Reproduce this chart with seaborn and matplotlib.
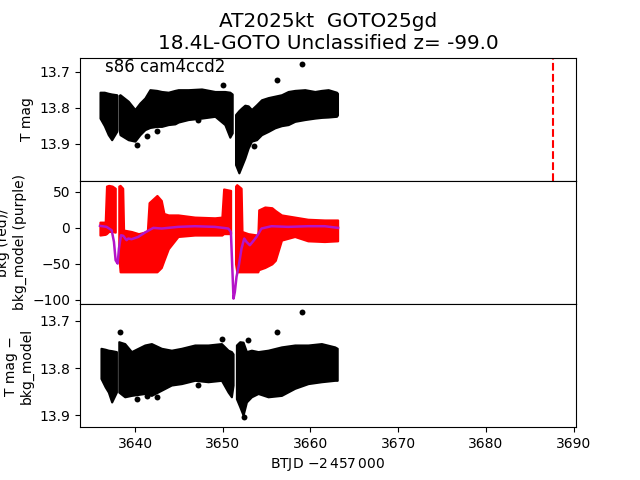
import matplotlib
matplotlib.use("Agg")
import matplotlib.pyplot as plt
import seaborn as sns
import pandas as pd

# ---------------- data ----------------
# Top panel: T mag point cloud, described by its upper/lower envelope per observing segment
tmag_t = [
    [3636.01, 3636.5, 3636.95, 3637.34, 3637.91],
    [3638.17, 3638.29, 3639.23, 3639.99, 3640.56, 3641.13, 3641.70, 3642.47, 3643.03,
     3643.79, 3644.55, 3644.93, 3646.07, 3647.59, 3649.11, 3650.24, 3650.81, 3651.08],
    [3651.46, 3651.84, 3652.14, 3652.52, 3652.90, 3653.28, 3653.85, 3654.42, 3655.18, 3655.94,
     3656.70, 3657.46, 3658.22, 3659.36, 3660.50, 3661.26, 3662.02, 3662.97, 3663.08],
]
tmag_hi = [
    [13.757, 13.757, 13.760, 13.762, 13.764],
    [13.766, 13.764, 13.782, 13.805, 13.787, 13.773, 13.750, 13.752, 13.755,
     13.757, 13.752, 13.750, 13.750, 13.748, 13.755, 13.755, 13.757, 13.762],
    [13.819, 13.808, 13.801, 13.793, 13.795, 13.805, 13.792, 13.778, 13.772, 13.768,
     13.764, 13.755, 13.752, 13.750, 13.755, 13.752, 13.750, 13.757, 13.760],
]
tmag_lo = [
    [13.829, 13.850, 13.875, 13.889, 13.866],
    [13.860, 13.875, 13.889, 13.893, 13.875, 13.861, 13.855, 13.852, 13.852,
     13.847, 13.845, 13.840, 13.833, 13.829, 13.824, 13.847, 13.882, 13.870],
    [13.958, 13.981, 13.963, 13.940, 13.912, 13.893, 13.889, 13.875, 13.866, 13.856,
     13.850, 13.847, 13.838, 13.833, 13.829, 13.827, 13.826, 13.824, 13.820],
]
tmag_out_t = [3650.05, 3656.13, 3659.09, 3647.13, 3640.19, 3641.33, 3642.47, 3653.58]
tmag_out_m = [13.736, 13.724, 13.680, 13.833, 13.903, 13.880, 13.864, 13.907]

# Middle panel: background flux envelope (red) and background model (purple)
bkg_t = [
    [3636.0, 3636.6, 3636.75, 3637.0, 3637.4, 3637.75],
    [3638.15, 3638.3, 3638.6, 3638.7, 3639.6, 3640.4, 3641.4, 3641.6, 3642.5, 3643.0,
     3643.3, 3643.8, 3644.9, 3646.8, 3649.1, 3649.9, 3650.1, 3650.9],
    [3651.46, 3651.6, 3652.1, 3652.2, 3652.9, 3654.0, 3654.1, 3654.8, 3655.6, 3656.0,
     3656.7, 3658.2, 3659.7, 3661.6, 3663.1],
]
bkg_hi = [
    [8, 8, 58, 59, 58, 55],
    [58, 59, 55, -3, -5, -8, -5, 35, 45, 38, 20, 18, 18, 15, 14, 15, 54, 52],
    [58, 60, 55, -5, -8, -10, 25, 29, 28, 24, 18, 15, 12, 11, 11],
]
bkg_lo = [
    [-10, -9, -8, -5, -5, -6],
    [-40, -61, -61, -61, -61, -61, -61, -61, -61, -55, -45, -29, -12, -10, -10, -10, -8, -8],
    [-50, -61, -61, -61, -61, -61, -58, -55, -50, -45, -17, -12, -18, -19, -18],
]
model_t = [3636.01, 3636.76, 3637.34, 3637.60, 3637.79, 3638.02, 3638.17, 3638.40, 3638.66,
           3639.04, 3639.23, 3639.61, 3640.37, 3641.13, 3642.09, 3643.03, 3644.93, 3646.83,
           3649.11, 3650.63, 3650.93, 3651.08, 3651.23, 3651.38, 3651.57, 3651.84, 3652.14,
           3652.45, 3652.71, 3653.09, 3653.47, 3653.85, 3654.42, 3655.56, 3657.46, 3659.73,
           3661.63, 3663.15]
model_v = [2.8, 1.4, -3.2, -19.4, -44.9, -49.5, -28.7, -10.2, -11.0,
           -17.1, -14.8, -15.7, -12.5, -6.5, 0.0, -0.9, 1.4, 2.3,
           1.4, -0.9, -5.5, -51.8, -98.1, -88.9, -68.0, -51.8, -28.7,
           -14.8, -19.4, -24.1, -18.5, -12.5, -0.9, 2.3, 1.4, 2.3,
           2.3, 0.0]

# Bottom panel: T mag - bkg_model envelope
corr_t = [
    [3636.12, 3636.6, 3636.96, 3637.34, 3637.88],
    [3638.15, 3638.83, 3639.59, 3640.35, 3641.11, 3641.87, 3643.01, 3644.15, 3645.29,
     3646.81, 3648.33, 3649.85, 3650.61, 3650.99, 3651.18],
    [3651.56, 3651.94, 3652.32, 3652.70, 3653.27, 3654.03, 3655.17, 3656.69, 3658.21,
     3659.73, 3661.25, 3662.77, 3663.05],
]
corr_hi = [
    [13.758, 13.760, 13.762, 13.763, 13.765],
    [13.744, 13.748, 13.765, 13.758, 13.751, 13.748, 13.758, 13.762, 13.758,
     13.751, 13.751, 13.748, 13.762, 13.765, 13.770],
    [13.751, 13.744, 13.745, 13.765, 13.762, 13.765, 13.762, 13.755, 13.751,
     13.751, 13.748, 13.755, 13.758],
]
corr_lo = [
    [13.822, 13.840, 13.851, 13.872, 13.851],
    [13.851, 13.861, 13.858, 13.856, 13.854, 13.858, 13.847, 13.836, 13.833,
     13.826, 13.829, 13.826, 13.851, 13.861, 13.836],
    [13.865, 13.882, 13.900, 13.872, 13.861, 13.854, 13.861, 13.858, 13.843,
     13.833, 13.829, 13.826, 13.826],
]
corr_out_t = [3638.30, 3640.19, 3641.33, 3642.47, 3647.13, 3649.95, 3652.38, 3652.90, 3656.13, 3659.09]
corr_out_m = [13.723, 13.866, 13.859, 13.861, 13.836, 13.738, 13.904, 13.741, 13.723, 13.682]

marker_time = 3687.6

title_lines = ["AT2025kt  GOTO25gd", "18.4L-GOTO Unclassified z= -99.0"]
sector_text = "s86 cam4ccd2"

# ---------------- figure ----------------
fig, (ax1, ax2, ax3) = plt.subplots(3, 1, sharex=True, figsize=(6.4, 4.8), dpi=100)
fig.subplots_adjust(hspace=0)


def band(ax, ts, his, los, color):
    for t, hi, lo in zip(ts, his, los):
        ax.fill_between(t, lo, hi, color=color, lw=1.5, edgecolor=color, zorder=2)


band(ax1, tmag_t, tmag_hi, tmag_lo, "k")
sns.scatterplot(x=tmag_out_t, y=tmag_out_m, ax=ax1, color="k", s=18, edgecolor="k", linewidth=0, zorder=3)
ax1.axvline(marker_time, color="r", ls="--", lw=1.5)
ax1.set_ylim(14.003, 13.661)
ax1.set_yticks([13.7, 13.8, 13.9])
ax1.set_ylabel("T mag")
ax1.text(0.05, 0.995, sector_text, transform=ax1.transAxes, fontsize=12, va="top", ha="left")
ax1.set_title("\n".join(title_lines), fontsize=14.4)

band(ax2, bkg_t, bkg_hi, bkg_lo, "r")
model_df = pd.DataFrame({"t": model_t, "v": model_v})
sns.lineplot(data=model_df, x="t", y="v", ax=ax2, color="#b414c8", lw=1.8, zorder=3)
ax2.set_ylim(-105.6, 65.3)
ax2.set_yticks([50, 0, -50, -100])
ax2.set_ylabel("bkg (red)/\nbkg_model (purple)")
ax2.set_xlabel("")

band(ax3, corr_t, corr_hi, corr_lo, "k")
sns.scatterplot(x=corr_out_t, y=corr_out_m, ax=ax3, color="k", s=18, edgecolor="k", linewidth=0, zorder=3)
ax3.set_ylim(13.9255, 13.664)
ax3.set_yticks([13.7, 13.8, 13.9])
ax3.set_ylabel("T mag −\nbkg_model")

ax3.set_xlim(3633.73, 3690.27)
ax3.set_xticks([3640, 3650, 3660, 3670, 3680, 3690])
ax3.set_xlabel(r"BTJD $-2\,457\,000$")

fig.savefig("out.png", dpi=100)
